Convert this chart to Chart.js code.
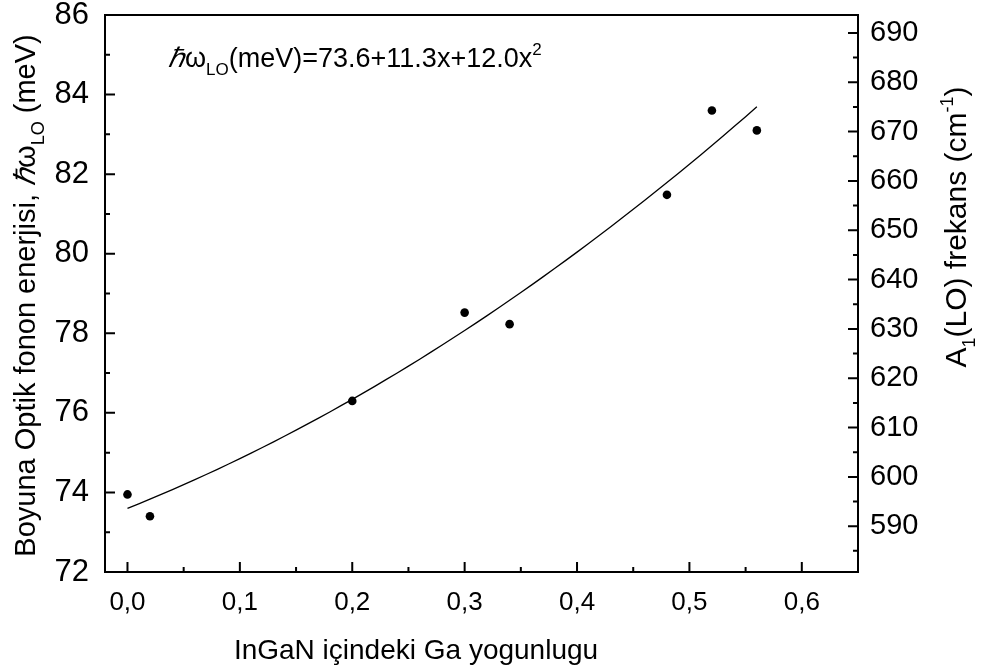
<!DOCTYPE html>
<html>
<head>
<meta charset="utf-8">
<script src="https://cdn.jsdelivr.net/npm/chart.js@4"></script>
<style>
  html, body { margin: 0; padding: 0; background: #fff; }
  #wrap { width: 982px; height: 670px; }
</style>
</head>
<body>
<div id="wrap"><canvas id="chart-phonon"></canvas></div>
<script>
// measured LO phonon energies vs Ga content
let gaContent = [0.0, 0.02, 0.2, 0.3, 0.34, 0.48, 0.52, 0.56];
let phononEnergy = [73.95, 73.4, 76.3, 78.52, 78.23, 81.48, 83.6, 83.1];

// quadratic fit, E = a + b*x + c*x^2 (meV)
let fitCoef = [73.6, 11.3, 12.0];
let fitRange = [0.0, 0.56];

let xTicks = [0.0, 0.1, 0.2, 0.3, 0.4, 0.5, 0.6];
let yTicks = [72, 74, 76, 78, 80, 82, 84, 86];
let freqTicks = [590, 600, 610, 620, 630, 640, 650, 660, 670, 680, 690];

let xMin = -0.02, xMax = 0.65;
let yMin = 72, yMax = 86;
let meVtoCm = 8.0655;

const FONT = "'Liberation Sans', Arial, sans-serif";

function fitValue(x) {
  return fitCoef[0] + fitCoef[1] * x + fitCoef[2] * x * x;
}

let fitLine = [];
for (let i = 0; i <= 56; i++) {
  let x = fitRange[0] + (fitRange[1] - fitRange[0]) * i / 56;
  fitLine.push({ x: x, y: fitValue(x) });
}

let points = gaContent.map((x, i) => ({ x: x, y: phononEnergy[i] }));

// draw text made of several runs (subscripts, superscripts, symbols)
function runWidth(ctx, parts) {
  let w = 0;
  parts.forEach(p => { ctx.font = p.font; w += ctx.measureText(p.t).width; });
  return w;
}
function drawRuns(ctx, parts, x, y) {
  parts.forEach(p => {
    ctx.font = p.font;
    ctx.fillText(p.t, x, y + (p.dy || 0));
    x += ctx.measureText(p.t).width;
  });
}

function ticksAt(values) {
  return function (scale) {
    scale.ticks = values.map(v => ({ value: v }));
  };
}

const framePlugin = {
  id: "frame",
  afterDatasetsDraw(chart) {
    let ctx = chart.ctx;
    let a = chart.chartArea;
    let sx = chart.scales.x, sy = chart.scales.y, sf = chart.scales.y2;
    ctx.save();
    ctx.strokeStyle = "#000";
    ctx.lineWidth = 2;
    ctx.strokeRect(a.left, a.top, a.right - a.left, a.bottom - a.top);

    ctx.beginPath();
    // x axis, ticks pointing inward
    xTicks.forEach((v, i) => {
      let px = sx.getPixelForValue(v);
      ctx.moveTo(px, a.bottom); ctx.lineTo(px, a.bottom - 10);
      if (i < xTicks.length - 1) {
        let mx = sx.getPixelForValue((v + xTicks[i + 1]) / 2);
        ctx.moveTo(mx, a.bottom); ctx.lineTo(mx, a.bottom - 5);
      }
    });
    // left axis
    yTicks.forEach((v, i) => {
      let py = sy.getPixelForValue(v);
      ctx.moveTo(a.left, py); ctx.lineTo(a.left + 10, py);
      if (i < yTicks.length - 1) {
        let my = sy.getPixelForValue((v + yTicks[i + 1]) / 2);
        ctx.moveTo(a.left, my); ctx.lineTo(a.left + 5, my);
      }
    });
    // right axis
    freqTicks.forEach((v, i) => {
      let py = sf.getPixelForValue(v);
      ctx.moveTo(a.right, py); ctx.lineTo(a.right - 10, py);
      let lo = v - 5;
      if (lo > sf.min) {
        let my = sf.getPixelForValue(lo);
        ctx.moveTo(a.right, my); ctx.lineTo(a.right - 5, my);
      }
    });
    ctx.stroke();

    ctx.fillStyle = "#000";
    ctx.textBaseline = "alphabetic";
    ctx.textAlign = "left";

    // fit equation
    let eq = [
      { t: "\u210F", font: "italic 27px 'Liberation Serif', serif" },
      { t: "\u03C9", font: "27px " + FONT },
      { t: "LO", font: "17px " + FONT, dy: 8 },
      { t: "(meV)=" + fitCoef[0].toFixed(1) + "+" + fitCoef[1].toFixed(1) + "x+" + fitCoef[2].toFixed(1) + "x", font: "27px " + FONT },
      { t: "2", font: "17px " + FONT, dy: -12 }
    ];
    drawRuns(ctx, eq, 168, 67);

    // left axis title
    let lt = [
      { t: "Boyuna Optik fonon enerjisi, ", font: "29px " + FONT },
      { t: "\u210F", font: "italic 29px 'Liberation Serif', serif" },
      { t: "\u03C9", font: "29px " + FONT },
      { t: "LO", font: "18px " + FONT, dy: 9 },
      { t: " (meV)", font: "29px " + FONT }
    ];
    ctx.save();
    ctx.translate(35, (a.top + a.bottom) / 2 + 2);
    ctx.rotate(-Math.PI / 2);
    drawRuns(ctx, lt, -runWidth(ctx, lt) / 2, 0);
    ctx.restore();

    // right axis title
    let rt = [
      { t: "A", font: "30px " + FONT },
      { t: "1", font: "18px " + FONT, dy: 9 },
      { t: "(LO) frekans (cm", font: "30px " + FONT },
      { t: "-1", font: "18px " + FONT, dy: -13 },
      { t: ")", font: "30px " + FONT }
    ];
    ctx.save();
    ctx.translate(966, 227);
    ctx.rotate(-Math.PI / 2);
    drawRuns(ctx, rt, -runWidth(ctx, rt) / 2, 0);
    ctx.restore();

    // x axis title
    ctx.font = "28px " + FONT;
    ctx.textAlign = "center";
    ctx.fillText("InGaN i\u00E7indeki Ga yogunlugu", 416, 659);
    ctx.restore();
  }
};

function noEdgePadding(width, height) {
  return function (s) {
    if (width) s.width = width;
    if (height) s.height = height;
    s.paddingTop = 0; s.paddingBottom = 0;
    s.paddingLeft = 0; s.paddingRight = 0;
  };
}

let ctx_phonon = document.getElementById("chart-phonon").getContext("2d");
let chart_phonon = new Chart(ctx_phonon, {
  type: "scatter",
  data: {
    datasets: [
      {
        label: "fit",
        data: fitLine,
        showLine: true,
        borderColor: "#000",
        borderWidth: 1.3,
        pointRadius: 0,
        tension: 0,
        yAxisID: "y",
      },
      {
        label: "olcum",
        data: points,
        pointRadius: 4.3,
        pointBackgroundColor: "#000",
        pointBorderWidth: 0,
        yAxisID: "y",
      },
    ],
  },
  options: {
    responsive: true,
    maintainAspectRatio: false,
    animation: false,
    layout: { padding: { top: 15, left: 0, right: 0, bottom: 0 } },
    plugins: { legend: { display: false }, tooltip: { enabled: false } },
    scales: {
      x: {
        type: "linear",
        min: xMin,
        max: xMax,
        afterBuildTicks: ticksAt(xTicks),
        afterFit: noEdgePadding(0, 98),
        grid: { display: false, drawTicks: false },
        border: { display: false },
        ticks: {
          color: "#000",
          padding: 15,
          font: { family: FONT, size: 26 },
          callback: v => v.toFixed(1).replace(".", ","),
        },
      },
      y: {
        position: "left",
        min: yMin,
        max: yMax,
        afterBuildTicks: ticksAt(yTicks),
        afterFit: noEdgePadding(105, 0),
        grid: { display: false, drawTicks: false },
        border: { display: false },
        ticks: {
          color: "#000",
          padding: 16,
          font: { family: FONT, size: 31 },
        },
      },
      y2: {
        position: "right",
        min: yMin * meVtoCm,
        max: yMax * meVtoCm,
        afterBuildTicks: ticksAt(freqTicks),
        afterFit: noEdgePadding(124, 0),
        grid: { display: false, drawTicks: false },
        border: { display: false },
        ticks: {
          color: "#000",
          padding: 12,
          font: { family: FONT, size: 29 },
        },
      },
    },
  },
  plugins: [framePlugin],
});
</script>
</body>
</html>
